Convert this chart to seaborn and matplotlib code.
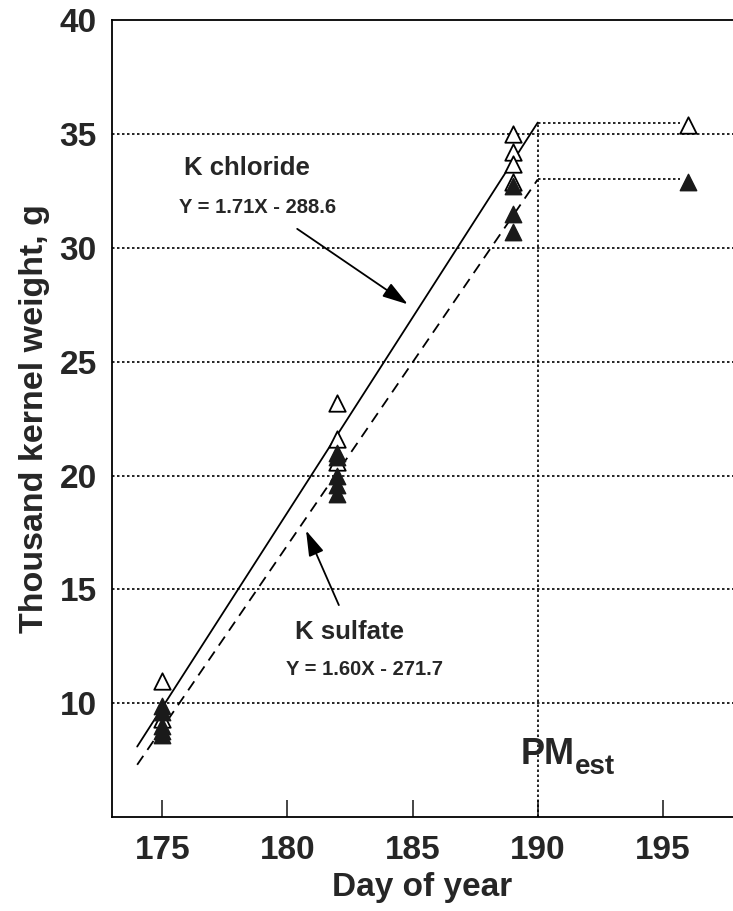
import numpy as np
import pandas as pd
import matplotlib.pyplot as plt
import seaborn as sns

kcl_day = [175, 175, 182, 182, 182, 189, 189, 189, 189, 196]
kcl_wt = [11.0, 9.3, 23.2, 21.6, 20.6, 35.0, 34.2, 33.7, 32.9, 35.4]
kso_day = [175, 175, 175, 175, 175, 182, 182, 182, 182, 182, 189, 189, 189, 196]
kso_wt = [9.9, 9.6, 9.0, 8.8, 8.6, 21.0, 20.8, 20.0, 19.6, 19.2, 32.7, 31.5, 30.7, 32.9]

# fitted lines as drawn (start/end)
fit_day = [174, 190]
kcl_fit = [8.1, 35.5]
kso_fit = [7.3, 33.0]
pm_day = 190
plateau_day = 195.7

sns.set_theme(style="white")
plt.rcParams["font.family"] = ["Liberation Sans", "DejaVu Sans"]
plt.rcParams["font.weight"] = "bold"

fig = plt.figure(figsize=(7.33, 9.11), dpi=100)
ax = fig.add_axes([0.153, 0.103, 0.847, 0.875])

dot = (0, (1.5, 1.5))
for yv in [10, 15, 20, 25, 30, 35]:
    ax.axhline(yv, color="black", lw=1.2, ls=dot, zorder=1)

fit = pd.DataFrame({"day": fit_day, "kcl": kcl_fit, "kso": kso_fit})
sns.lineplot(data=fit, x="day", y="kcl", color="black", lw=1.3, ax=ax)
sns.lineplot(data=fit, x="day", y="kso", color="black", lw=1.3, ls=(0, (6, 4)), ax=ax)

# physiological maturity guides
ax.plot([pm_day, pm_day], [5, kcl_fit[1]], color="black", lw=1.2, ls=dot)
ax.plot([pm_day, plateau_day], [kcl_fit[1], kcl_fit[1]], color="black", lw=1.2, ls=dot)
ax.plot([pm_day, plateau_day], [kso_fit[1], kso_fit[1]], color="black", lw=1.2, ls=dot)

kcl = pd.DataFrame({"day": kcl_day, "wt": kcl_wt})
kso = pd.DataFrame({"day": kso_day, "wt": kso_wt})
sns.scatterplot(data=kcl, x="day", y="wt", marker="^", s=140, facecolor="white",
                edgecolor="black", linewidth=1.3, ax=ax, zorder=3)
sns.scatterplot(data=kso, x="day", y="wt", marker="^", s=140, color="#1a1a1a",
                edgecolor="#1a1a1a", linewidth=1, ax=ax, zorder=4)

ax.text(178.4, 33.5, "K chloride", fontsize=18.5, fontweight="bold", ha="center", va="center")
ax.text(178.8, 31.75, "Y = 1.71X - 288.6", fontsize=14.5, fontweight="bold", ha="center", va="center")
ax.annotate("", xy=(184.9, 27.45), xytext=(180.3, 30.9),
            arrowprops=dict(arrowstyle="-|>,head_length=1.3,head_width=0.4", color="black", lw=1.3))
ax.text(182.5, 13.15, "K sulfate", fontsize=18.5, fontweight="bold", ha="center", va="center")
ax.text(183.1, 11.5, "Y = 1.60X - 271.7", fontsize=14.5, fontweight="bold", ha="center", va="center")
ax.annotate("", xy=(180.7, 17.7), xytext=(182.1, 14.2),
            arrowprops=dict(arrowstyle="-|>,head_length=1.3,head_width=0.4", color="black", lw=1.3))
ax.text(189.3, 7.32, "PM", fontsize=26, fontweight="bold", ha="left", va="baseline")
ax.text(191.5, 6.89, "est", fontsize=20, fontweight="bold", ha="left", va="baseline")

ax.set_xlim(173, 197.8)
ax.set_ylim(5, 40)
ax.set_xticks([175, 180, 185, 190, 195])
ax.set_yticks([10, 15, 20, 25, 30, 35, 40])
ax.tick_params(axis="x", direction="in", length=12, width=1.2, pad=13, bottom=True, labelsize=24)
ax.tick_params(axis="y", length=0, pad=11, labelsize=24)
ax.set_xlabel("Day of year", fontsize=24, fontweight="bold", labelpad=4)
ax.set_ylabel("Thousand kernel weight, g", fontsize=24.5, fontweight="bold", labelpad=7)
for s in ["left", "bottom", "top"]:
    ax.spines[s].set_color("black")
    ax.spines[s].set_linewidth(1.3)
ax.spines["right"].set_visible(False)

fig.savefig("out.png", dpi=100)
